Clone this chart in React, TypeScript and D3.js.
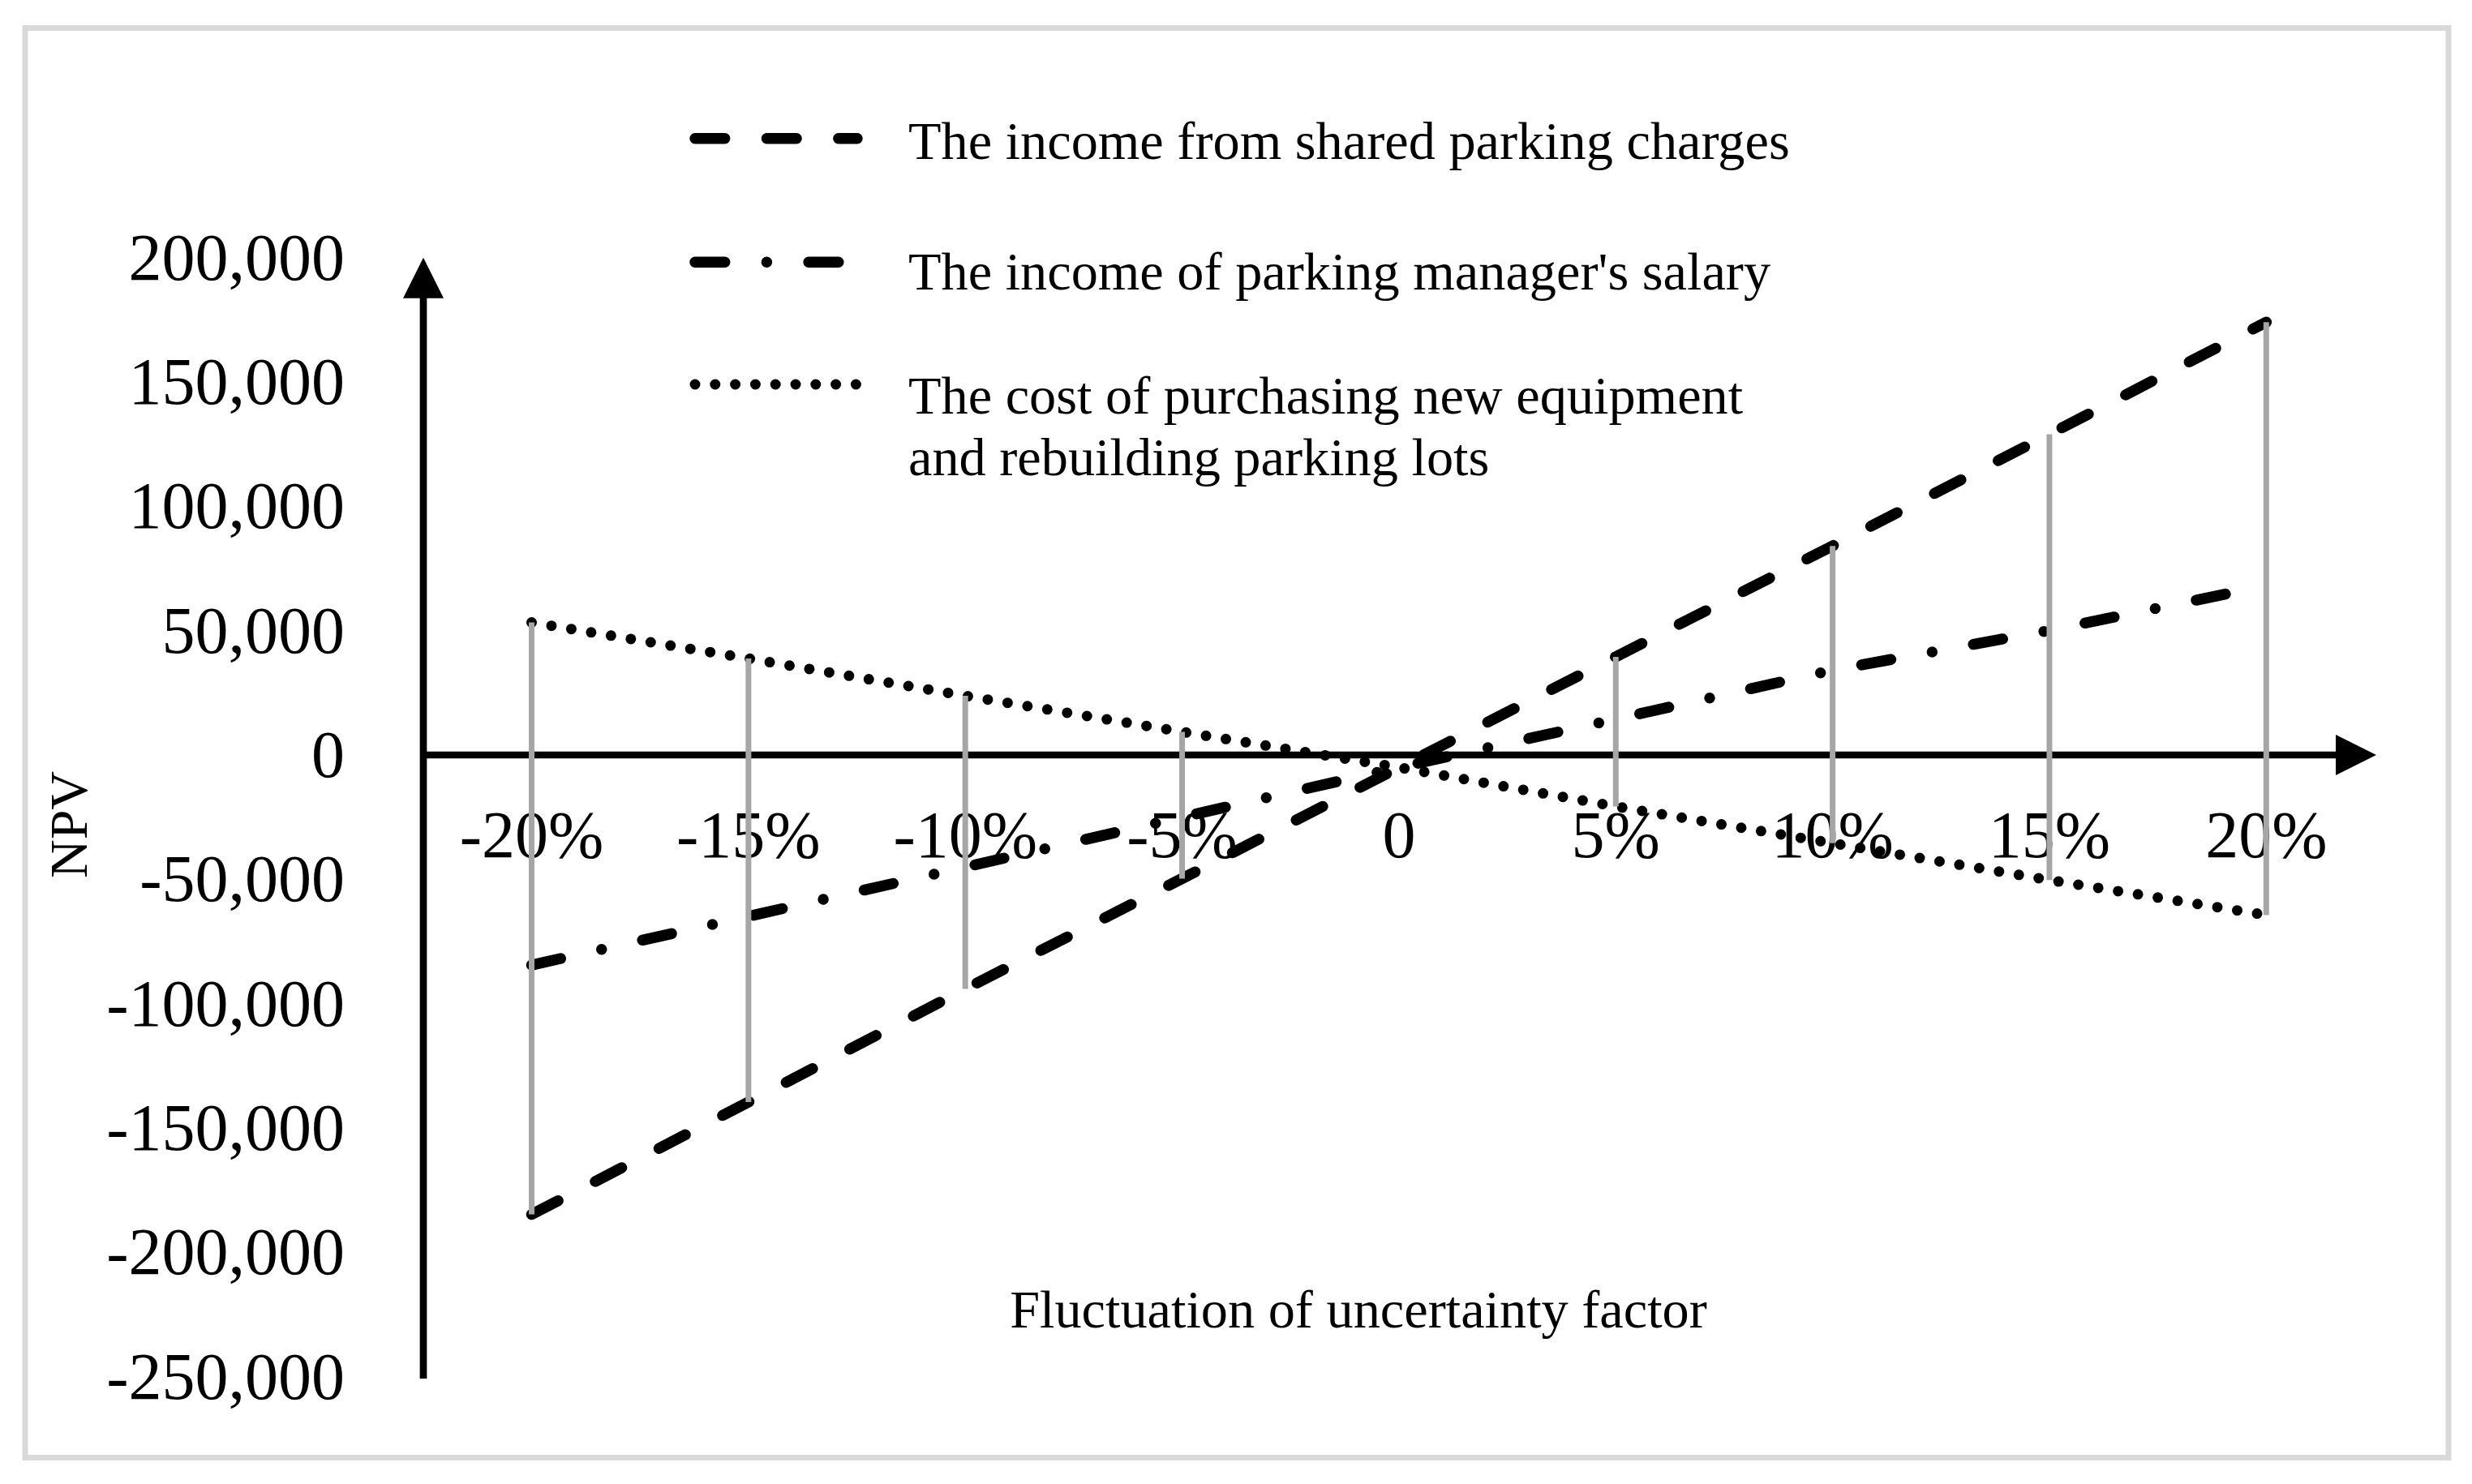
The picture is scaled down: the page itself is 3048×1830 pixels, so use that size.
import * as d3 from "d3";

// fluctuation of each uncertainty factor
const categories = ["-20%", "-15%", "-10%", "-5%", "0", "5%", "10%", "15%", "20%"];

// NPV for each series
const sharedParking = [-184800, -139600, -94100, -49700, -5000, 39500, 84100, 129000, 174100];
const managerSalary = [-84500, -64900, -45100, -25000, -5000, 14400, 34100, 50100, 68100];
const equipmentCost = [53300, 38800, 23800, 9300, -5000, -20700, -35500, -50300, -64400];

const yTicks = [200000, 150000, 100000, 50000, 0, -50000, -100000, -150000, -200000, -250000];

const seriesNames = [
  "The income from shared parking charges",
  "The income of parking manager's salary",
  "The cost of purchasing new equipment",
];

const width = 3048;
const height = 1830;
const font = "'Liberation Serif', 'Times New Roman', serif";

function App() {
  const x = d3.scalePoint<string>().domain(categories).range([655.5, 2794.3]);
  const y = d3.scaleLinear().domain([-250000, 200000]).range([1697.5, 317.8]);
  const fmt = (v: number) => d3.format(",")(v).replace("\u2212", "-");

  const line = d3
    .line<number>()
    .x((_, i) => x(categories[i]) as number)
    .y((d) => y(d));

  const styles = [
    { data: sharedParking, w: 13.5, dash: "36.7 51.7", lx2: 1057 },
    { data: managerSalary, w: 13.5, dash: "36.7 51.7 0 51.7", lx2: 1057 },
    { data: equipmentCost, w: 13, dash: "0 24.8", lx2: 1058 },
  ];
  const legendY = [170.7, 323.3, 474];

  const axisX = 522;
  const axisY = y(0);

  return (
    <svg
      width={width}
      height={height}
      style={{ position: "absolute", left: 0, top: 0, background: "#fff" }}
      fontFamily={font}
    >
      <rect x={31} y={34.5} width={2988} height={1763} fill="#fff" stroke="#d9d9d9" strokeWidth={7} />

      {/* legend */}
      {styles.map((s, i) => (
        <line
          key={"lg" + i}
          x1={857}
          x2={s.lx2}
          y1={legendY[i]}
          y2={legendY[i]}
          stroke="#000"
          strokeWidth={s.w}
          strokeLinecap="round"
          strokeDasharray={s.dash}
        />
      ))}
      <g fontSize={66.3} fill="#000">
        <text x={1120} y={196}>{seriesNames[0]}</text>
        <text x={1120} y={357}>{seriesNames[1]}</text>
        <text x={1120} y={509.6}>
          {seriesNames[2]}
          <tspan x={1120} y={586}>and rebuilding parking lots</tspan>
        </text>
      </g>

      {/* y tick labels */}
      <g fontSize={82} textAnchor="end">
        {yTicks.map((t) => (
          <text key={t} x={425} y={y(t) + 27}>
            {fmt(t)}
          </text>
        ))}
      </g>

      {/* x tick labels */}
      <g fontSize={82} textAnchor="middle">
        {categories.map((c) => (
          <text key={c} x={x(c)} y={1057}>
            {c}
          </text>
        ))}
      </g>

      <text transform={`translate(107,1017) rotate(-90)`} fontSize={66} textAnchor="middle">
        NPV
      </text>
      <text x={1675} y={1637} fontSize={66.3} textAnchor="middle">
        Fluctuation of uncertainty factor
      </text>

      {/* axes with arrows */}
      <line x1={axisX} x2={axisX} y1={1700} y2={360} stroke="#000" strokeWidth={8.7} />
      <path d={`M${axisX},${y(200000)} L${axisX - 25},${y(200000) + 50} L${axisX + 25},${y(200000) + 50} Z`} fill="#000" />
      <line x1={axisX} x2={2885} y1={axisY} y2={axisY} stroke="#000" strokeWidth={8.5} />
      <path d={`M2930,${axisY} L2880,${axisY - 25} L2880,${axisY + 25} Z`} fill="#000" />

      {/* series */}
      {styles.map((s, i) => (
        <path
          key={"s" + i}
          d={line(s.data) as string}
          fill="none"
          stroke="#000"
          strokeWidth={s.w}
          strokeLinecap="round"
          strokeDasharray={s.dash}
        />
      ))}

      {/* high-low lines */}
      {categories.map((c, i) => {
        const vals = [sharedParking[i], managerSalary[i], equipmentCost[i]];
        return (
          <line
            key={"hl" + c}
            x1={x(c)}
            x2={x(c)}
            y1={y(d3.max(vals) as number)}
            y2={y(d3.min(vals) as number)}
            stroke="#a6a6a6"
            strokeWidth={7}
          />
        );
      })}
    </svg>
  );
}

export default App;
